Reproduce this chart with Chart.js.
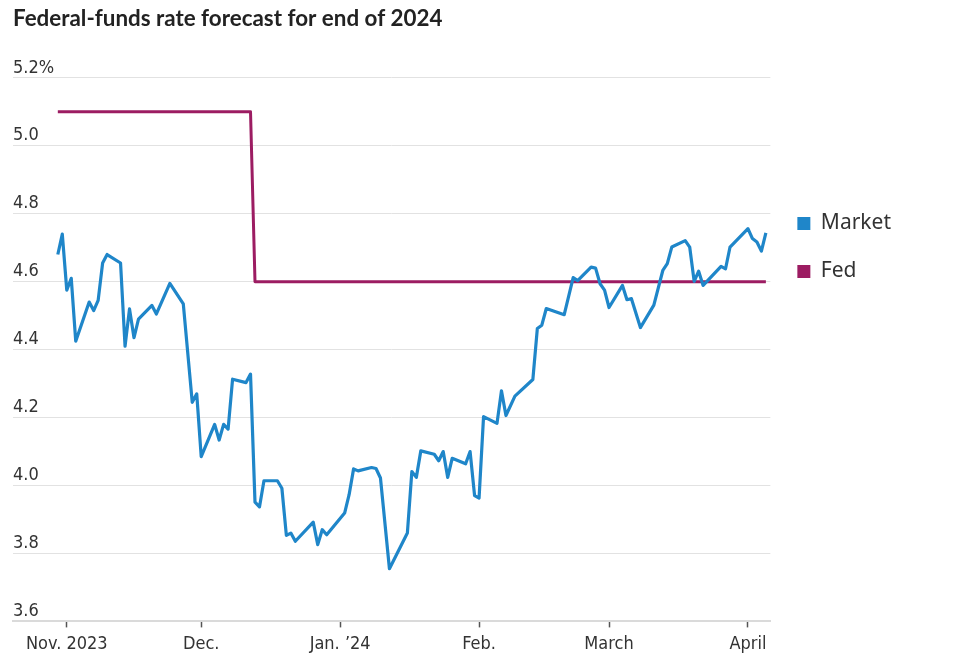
<!DOCTYPE html>
<html>
<head>
<meta charset="utf-8">
<script src="https://cdn.jsdelivr.net/npm/chart.js@4.4.1/dist/chart.umd.min.js"></script>
<style>
  body { margin: 0; background: #fff; }
  #wrap { width: 962px; height: 658px; }
</style>
</head>
<body>
<div id="wrap"><canvas id="chart" width="962" height="658"></canvas></div>
<script>
// market-implied end-2024 fed funds rate, business days
const marketDates = [
  '2023-10-30','2023-10-31','2023-11-01','2023-11-02','2023-11-03',
  '2023-11-06','2023-11-07','2023-11-08','2023-11-09','2023-11-10',
  '2023-11-13','2023-11-14','2023-11-15','2023-11-16','2023-11-17',
  '2023-11-20','2023-11-21','2023-11-24','2023-11-27','2023-11-29',
  '2023-11-30','2023-12-01','2023-12-04','2023-12-05','2023-12-06',
  '2023-12-07','2023-12-08','2023-12-11','2023-12-12','2023-12-13',
  '2023-12-14','2023-12-15','2023-12-18','2023-12-19','2023-12-20',
  '2023-12-21','2023-12-22','2023-12-26','2023-12-27','2023-12-28',
  '2023-12-29','2024-01-02','2024-01-03','2024-01-04','2024-01-05',
  '2024-01-08','2024-01-09','2024-01-10','2024-01-12','2024-01-16',
  '2024-01-17','2024-01-18','2024-01-19','2024-01-22','2024-01-23',
  '2024-01-24','2024-01-25','2024-01-26','2024-01-29','2024-01-30',
  '2024-01-31','2024-02-01','2024-02-02','2024-02-05','2024-02-06',
  '2024-02-07','2024-02-09','2024-02-13','2024-02-14','2024-02-15',
  '2024-02-16','2024-02-20','2024-02-22','2024-02-23','2024-02-26',
  '2024-02-27','2024-02-28','2024-02-29','2024-03-01','2024-03-04',
  '2024-03-05','2024-03-06','2024-03-08','2024-03-11','2024-03-13',
  '2024-03-14','2024-03-15','2024-03-18','2024-03-19','2024-03-20',
  '2024-03-21','2024-03-22','2024-03-26','2024-03-27','2024-03-28',
  '2024-04-01','2024-04-02','2024-04-03','2024-04-04','2024-04-05'
];
const marketValues = [
  4.68, 4.74, 4.575, 4.61, 4.425,
  4.54, 4.515, 4.545, 4.655, 4.68,
  4.655, 4.41, 4.52, 4.435, 4.49,
  4.53, 4.505, 4.595, 4.535, 4.245,
  4.27, 4.085, 4.18, 4.134, 4.18,
  4.166, 4.313, 4.303, 4.328, 3.951,
  3.937, 4.014, 4.014, 3.992, 3.853,
  3.86, 3.836, 3.892, 3.826, 3.87,
  3.855, 3.919, 3.973, 4.049, 4.043,
  4.053, 4.05, 4.022, 3.755, 3.86,
  4.041, 4.024, 4.102, 4.092, 4.073,
  4.10, 4.024, 4.08, 4.064, 4.10,
  3.97, 3.963, 4.203, 4.183, 4.279,
  4.206, 4.263, 4.312, 4.462, 4.472,
  4.521, 4.503, 4.612, 4.603, 4.643,
  4.64, 4.594, 4.575, 4.524, 4.589,
  4.547, 4.55, 4.465, 4.531, 4.633,
  4.653, 4.702, 4.721, 4.702, 4.601,
  4.631, 4.589, 4.645, 4.638, 4.702,
  4.756, 4.727, 4.717, 4.69, 4.744
];

// Fed median projection (dot plot)
const fedDates = ['2023-10-30', '2023-12-12', '2023-12-13', '2024-04-05'];
const fedValues = [5.1, 5.1, 4.6, 4.6];

const seriesNames = ['Market', 'Fed'];

// axis ticks
const xTickDates = ['2023-11-01','2023-12-01','2024-01-01','2024-02-01','2024-03-01','2024-04-01'];
const xTickLabels = ['Nov. 2023', 'Dec.', 'Jan. \u201924', 'Feb.', 'March', 'April'];
const yTicks = [3.6, 3.8, 4.0, 4.2, 4.4, 4.6, 4.8, 5.0, 5.2];
const yTickLabels = ['3.6', '3.8', '4.0', '4.2', '4.4', '4.6', '4.8', '5.0', '5.2%'];

// days since Nov 1, 2023
const DAY0 = Date.UTC(2023, 10, 1);
function dayNum(s) {
  const p = s.split('-');
  return (Date.UTC(+p[0], +p[1] - 1, +p[2]) - DAY0) / 86400000;
}
function points(dates, values) {
  return dates.map((d, i) => ({ x: dayNum(d), y: values[i] }));
}

const tickFont = { family: '"Liberation Sans Narrow", "DejaVu Sans Condensed", sans-serif', size: 18 };

new Chart(document.getElementById('chart'), {
  type: 'line',
  data: {
    datasets: [{
      label: seriesNames[0],
      data: points(marketDates, marketValues),
      borderColor: '#1f86c9',
      backgroundColor: '#1f86c9',
      borderWidth: 3.2,
      borderJoinStyle: 'round',
      pointRadius: 0,
      tension: 0
    }, {
      label: seriesNames[1],
      data: points(fedDates, fedValues),
      borderColor: '#9c1c62',
      backgroundColor: '#9c1c62',
      borderWidth: 3,
      borderJoinStyle: 'round',
      pointRadius: 0,
      tension: 0
    }]
  },
  options: {
    responsive: false,
    animation: false,
    layout: { padding: { left: 13, right: 61, top: 0, bottom: -3 } },
    scales: {
      x: {
        type: 'linear',
        min: -12,
        max: 157,
        afterBuildTicks: s => { s.ticks = xTickDates.map(d => ({ value: dayNum(d) })) },
        ticks: {
          autoSkip: false,
          maxRotation: 0,
          padding: 6,
          color: '#333',
          font: tickFont,
          callback: (v, i) => xTickLabels[i]
        },
        grid: { drawOnChartArea: false, drawTicks: true, tickLength: 6, tickColor: '#555', tickWidth: 1.5 },
        border: { display: true, color: '#dadada', width: 2 }
      },
      y: {
        min: 3.6,
        max: 5.2,
        afterBuildTicks: s => { s.ticks = yTicks.map(v => ({ value: v })) },
        ticks: {
          mirror: true,
          padding: 0,
          labelOffset: -10,
          color: '#333',
          font: tickFont,
          callback: (v, i) => yTickLabels[i]
        },
        grid: { color: '#e2e2e2', lineWidth: 1, drawTicks: false },
        border: { display: false }
      }
    },
    plugins: {
      title: {
        display: true,
        text: 'Federal-funds rate forecast for end of 2024',
        align: 'start',
        color: '#222',
        font: { family: 'Lato, "Open Sans", sans-serif', size: 22.4, weight: 'bold' },
        padding: { top: 5, bottom: 46 }
      },
      legend: {
        position: 'right',
        align: 'start',
        fullSize: false,
        title: { display: true, text: ' ', font: { size: 10 }, padding: { top: 96, bottom: 0 } },
        labels: {
          boxWidth: 13,
          boxHeight: 13,
          padding: 27,
          color: '#333',
          font: { family: '"Noto Sans", "Open Sans", sans-serif', size: 21 },
          generateLabels: chart => Chart.defaults.plugins.legend.labels.generateLabels(chart)
            .map(l => Object.assign(l, { lineWidth: 0 }))
        }
      },
      tooltip: { enabled: false }
    }
  }
});
</script>
</body>
</html>
